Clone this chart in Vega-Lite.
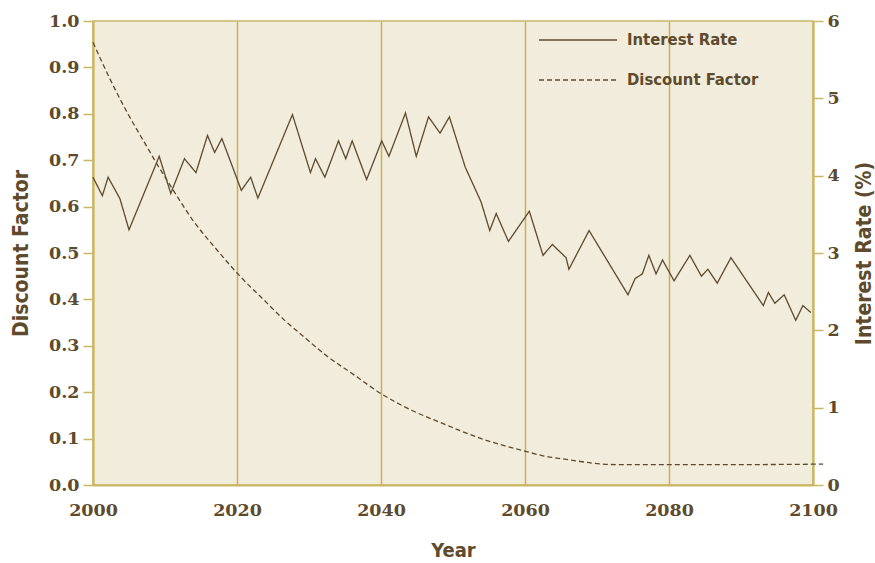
{
  "$schema": "https://vega.github.io/schema/vega-lite/v6.json",
  "width": 720,
  "height": 464,
  "autosize": {"type": "none"},
  "padding": {"left": 93, "top": 21, "right": 62, "bottom": 78},
  "background": "white",
  "config": {
    "view": {"fill": "#f2ecdc", "stroke": "#c9b766", "strokeWidth": 1.5},
    "axis": {
      "labelFont": "DejaVu Serif",
      "labelFontWeight": "bold",
      "labelFontSize": 17.5,
      "labelColor": "#5e4a2c",
      "labelFlush": false,
      "labelOverlap": false,
      "titleFont": "DejaVu Sans Condensed",
      "titleFontWeight": "bold",
      "titleFontSize": 21,
      "titleColor": "#5e4a2c",
      "domainColor": "#c9b766",
      "domainWidth": 2,
      "tickColor": "#c9b766",
      "tickWidth": 1.5,
      "tickSize": 10
    }
  },
  "datasets": {
    "rate": [
      {"year": 2000, "rate": 3.98}, {"year": 2001.3, "rate": 3.74}, {"year": 2002.1, "rate": 3.98},
      {"year": 2003.75, "rate": 3.70}, {"year": 2005.0, "rate": 3.30}, {"year": 2009.2, "rate": 4.25},
      {"year": 2010.8, "rate": 3.77}, {"year": 2012.7, "rate": 4.22}, {"year": 2014.3, "rate": 4.04},
      {"year": 2015.9, "rate": 4.52}, {"year": 2016.9, "rate": 4.30}, {"year": 2017.9, "rate": 4.48},
      {"year": 2020.6, "rate": 3.81}, {"year": 2021.9, "rate": 3.98}, {"year": 2022.9, "rate": 3.71},
      {"year": 2027.7, "rate": 4.79}, {"year": 2030.2, "rate": 4.04}, {"year": 2030.9, "rate": 4.22},
      {"year": 2032.2, "rate": 3.98}, {"year": 2034.1, "rate": 4.45}, {"year": 2035.1, "rate": 4.22},
      {"year": 2036.0, "rate": 4.45}, {"year": 2038.0, "rate": 3.95}, {"year": 2040.1, "rate": 4.45},
      {"year": 2041.1, "rate": 4.25}, {"year": 2043.4, "rate": 4.81}, {"year": 2044.9, "rate": 4.25},
      {"year": 2046.6, "rate": 4.76}, {"year": 2048.2, "rate": 4.55}, {"year": 2049.5, "rate": 4.76},
      {"year": 2051.7, "rate": 4.11}, {"year": 2053.9, "rate": 3.66}, {"year": 2055.1, "rate": 3.29},
      {"year": 2056.0, "rate": 3.51}, {"year": 2057.7, "rate": 3.15}, {"year": 2060.6, "rate": 3.54},
      {"year": 2062.5, "rate": 2.97}, {"year": 2063.8, "rate": 3.11}, {"year": 2065.7, "rate": 2.94},
      {"year": 2066.1, "rate": 2.79}, {"year": 2068.9, "rate": 3.29}, {"year": 2074.3, "rate": 2.46},
      {"year": 2075.3, "rate": 2.67}, {"year": 2076.3, "rate": 2.73}, {"year": 2077.2, "rate": 2.97},
      {"year": 2078.2, "rate": 2.73}, {"year": 2079.1, "rate": 2.91}, {"year": 2080.7, "rate": 2.64},
      {"year": 2082.9, "rate": 2.97}, {"year": 2084.5, "rate": 2.70}, {"year": 2085.4, "rate": 2.79},
      {"year": 2086.7, "rate": 2.61}, {"year": 2088.6, "rate": 2.94}, {"year": 2093.1, "rate": 2.32},
      {"year": 2093.8, "rate": 2.49}, {"year": 2094.7, "rate": 2.35}, {"year": 2096.0, "rate": 2.46},
      {"year": 2097.6, "rate": 2.13}, {"year": 2098.6, "rate": 2.32}, {"year": 2099.7, "rate": 2.23}
    ],
    "df": [
      {"year": 2000, "df": 0.954}, {"year": 2002.3, "df": 0.877}, {"year": 2004.6, "df": 0.807},
      {"year": 2007.0, "df": 0.742}, {"year": 2008.8, "df": 0.694}, {"year": 2011.2, "df": 0.634},
      {"year": 2013.9, "df": 0.570}, {"year": 2017.2, "df": 0.507}, {"year": 2020.6, "df": 0.447},
      {"year": 2023.4, "df": 0.404}, {"year": 2026.4, "df": 0.358}, {"year": 2029.4, "df": 0.318},
      {"year": 2032.4, "df": 0.279}, {"year": 2036.1, "df": 0.239}, {"year": 2040.1, "df": 0.196},
      {"year": 2044.4, "df": 0.160}, {"year": 2048.2, "df": 0.135}, {"year": 2054.1, "df": 0.099},
      {"year": 2060.2, "df": 0.072}, {"year": 2062.5, "df": 0.063}, {"year": 2066.3, "df": 0.054},
      {"year": 2069.5, "df": 0.047}, {"year": 2072.7, "df": 0.044}, {"year": 2080, "df": 0.044},
      {"year": 2090, "df": 0.044}, {"year": 2101.4, "df": 0.045}
    ]
  },
  "layer": [
    {
      "data": {"name": "df"},
      "mark": {"type": "line", "interpolate": "monotone", "strokeWidth": 1.3, "color": "#5b4a30"},
      "encoding": {
        "x": {
          "field": "year", "type": "quantitative",
          "scale": {"domain": [2000, 2100], "nice": false, "zero": false},
          "axis": {
            "values": [2000, 2020, 2040, 2060, 2080, 2100],
            "format": "d",
            "ticks": false,
            "grid": true,
            "gridColor": "#c6b04f",
            "gridWidth": 1.5,
            "labelPadding": 16,
            "title": "Year",
            "titleFontSize": 20,
            "titlePadding": 22
          }
        },
        "y": {
          "field": "df", "type": "quantitative",
          "scale": {"domain": [0, 1], "nice": false},
          "axis": {
            "orient": "left",
            "values": [0, 0.1, 0.2, 0.3, 0.4, 0.5, 0.6, 0.7, 0.8, 0.9, 1.0],
            "format": ".1f",
            "grid": false,
            "labelPadding": 4,
            "title": "Discount Factor",
            "titlePadding": 17
          }
        },
        "strokeDash": {
          "datum": "Discount Factor", "type": "nominal",
          "scale": {"domain": ["Interest Rate", "Discount Factor"], "range": [[1, 0], [5, 3]]},
          "legend": {
            "title": null,
            "orient": "none",
            "legendX": 445,
            "legendY": 9,
            "symbolType": "stroke",
            "symbolSize": 6084,
            "symbolStrokeWidth": 1.3,
            "symbolStrokeColor": "#5b4a30",
            "labelFont": "DejaVu Sans Condensed",
            "labelFontWeight": "bold",
            "labelFontSize": 16.5,
            "labelColor": "#5e4a2c",
            "labelOffset": 9,
            "clipHeight": 20,
            "rowPadding": 20
          }
        }
      }
    },
    {
      "data": {"name": "rate"},
      "mark": {"type": "line", "strokeWidth": 1.3, "color": "#5b4a30"},
      "encoding": {
        "x": {"field": "year", "type": "quantitative"},
        "y": {
          "field": "rate", "type": "quantitative",
          "scale": {"domain": [0, 6], "nice": false},
          "axis": {
            "orient": "right",
            "values": [0, 1, 2, 3, 4, 5, 6],
            "format": "d",
            "grid": false,
            "labelPadding": 4,
            "title": "Interest Rate (%)",
            "titleAngle": 270,
            "titlePadding": 35
          }
        },
        "strokeDash": {"datum": "Interest Rate", "type": "nominal"}
      }
    }
  ],
  "resolve": {"scale": {"y": "independent"}}
}
